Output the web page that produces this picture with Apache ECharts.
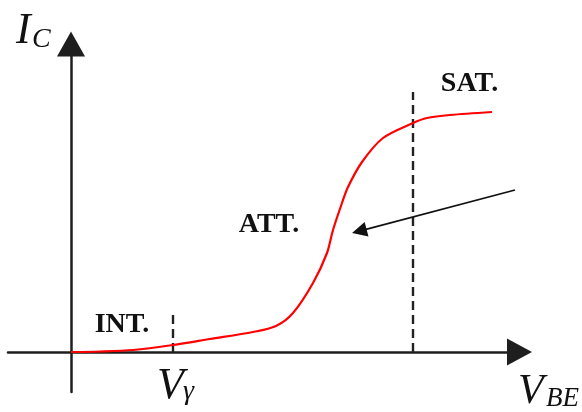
<!DOCTYPE html>
<html>
<head>
<meta charset="utf-8">
<script src="https://cdn.jsdelivr.net/npm/echarts@6/dist/echarts.min.js"></script>
<style>
  html, body { margin: 0; padding: 0; background: #fff; }
  #chart { width: 582px; height: 412px; }
</style>
</head>
<body>
<div id="chart"></div>
<script>
// Transfer characteristic Ic(Vbe): cut-off, active and saturation regions
const vbe = [0, 0.29, 0.62, 1.02, 1.39, 1.82, 2.05, 2.22, 2.42, 2.56, 2.62, 2.71, 2.77, 2.91, 3.12, 3.42, 3.56, 3.79, 4.21];
const ic  = [0, 0.005, 0.02, 0.07, 0.13, 0.20, 0.26, 0.39, 0.69, 0.99, 1.22, 1.49, 1.65, 1.90, 2.14, 2.29, 2.34, 2.37, 2.40];

// Region boundaries: threshold voltage and onset of saturation
const vGamma = 1.02;
const vGammaTop = 0.40;
const vSat = 3.42;
const vSatTop = 2.60;

// Region names and where they sit
const regionNames = ['INT.', 'ATT.', 'SAT.'];
const regionX = [0.51, 1.98, 3.985];
const regionY = [0.27, 1.275, 2.685];

// Pointer toward the active region
const pointerFrom = [4.44, 1.62];
const pointerTo = [2.883, 1.209];

const chart = echarts.init(document.getElementById('chart'));

const serif = "'Liberation Serif', 'DejaVu Serif', serif";
const ink = '#111111';

chart.setOption({
  animation: false,
  backgroundColor: '#ffffff',
  grid: { left: 8, right: 62.5, top: 44, bottom: 20, outerBoundsMode: 'none' },
  xAxis: {
    type: 'value', min: -0.63, max: 4.485,
    axisLine: { show: true, onZero: true, symbol: ['none', 'triangle'], symbolSize: [27, 25],
      lineStyle: { color: '#1e1e1e', width: 2.5 } },
    axisTick: { show: false }, axisLabel: { show: false }, splitLine: { show: false }
  },
  yAxis: {
    type: 'value', min: -0.40, max: 3.08,
    axisLine: { show: true, onZero: true, symbol: ['none', 'triangle'], symbolSize: [28, 25],
      lineStyle: { color: '#1e1e1e', width: 2.5 } },
    axisTick: { show: false }, axisLabel: { show: false }, splitLine: { show: false }
  },
  series: [
    {
      type: 'line', name: 'Ic',
      data: vbe.map((v, i) => [v, ic[i]]),
      smooth: 0.3, symbol: 'none',
      lineStyle: { color: '#ff0000', width: 2.2 },
      z: 5
    },
    {
      type: 'line', name: 'Vgamma',
      data: [[vGamma, 0], [vGamma, vGammaTop]],
      symbol: 'none',
      lineStyle: { color: '#222', width: 2.4, type: [9, 5] }
    },
    {
      type: 'line', name: 'Vsat',
      data: [[vSat, 0], [vSat, vSatTop]],
      symbol: 'none',
      lineStyle: { color: '#222', width: 2.4, type: [9, 5] }
    },
    {
      type: 'lines', coordinateSystem: 'cartesian2d',
      symbol: ['none', 'triangle'], symbolSize: [10, 15],
      lineStyle: { color: '#111', width: 1.8, opacity: 1 },
      data: [{ coords: [pointerFrom, pointerTo] }],
      z: 6
    },
    {
      type: 'scatter', name: 'regions',
      symbolSize: 0,
      itemStyle: { opacity: 1 },
      data: regionNames.map((n, i) => ({ value: [regionX[i], regionY[i]], name: n })),
      label: {
        show: true, position: 'inside', formatter: p => p.name,
        fontFamily: serif, fontWeight: 'bold', fontSize: 28, color: ink,
        opacity: 1, textBorderWidth: 0
      },
      z: 7
    }
  ],
  graphic: [
    { type: 'text', style: { x: 16, y: 31, text: 'I', font: 'italic 44px ' + serif, fill: ink, verticalAlign: 'middle' } },
    { type: 'text', style: { x: 32, y: 39.5, text: 'C', font: 'italic 28px ' + serif, fill: ink, verticalAlign: 'middle' } },
    { type: 'text', style: { x: 157, y: 386, text: 'V', font: 'italic 44px ' + serif, fill: ink, verticalAlign: 'middle' } },
    { type: 'text', style: { x: 183, y: 392, text: 'γ', font: 'italic 28px ' + serif, fill: ink, verticalAlign: 'middle' } },
    { type: 'text', style: { x: 518, y: 392, text: 'V', font: 'italic 42px ' + serif, fill: ink, verticalAlign: 'middle' } },
    { type: 'text', style: { x: 546, y: 399, text: 'BE', font: 'italic 27px ' + serif, fill: ink, verticalAlign: 'middle' } }
  ]
});
</script>
</body>
</html>
